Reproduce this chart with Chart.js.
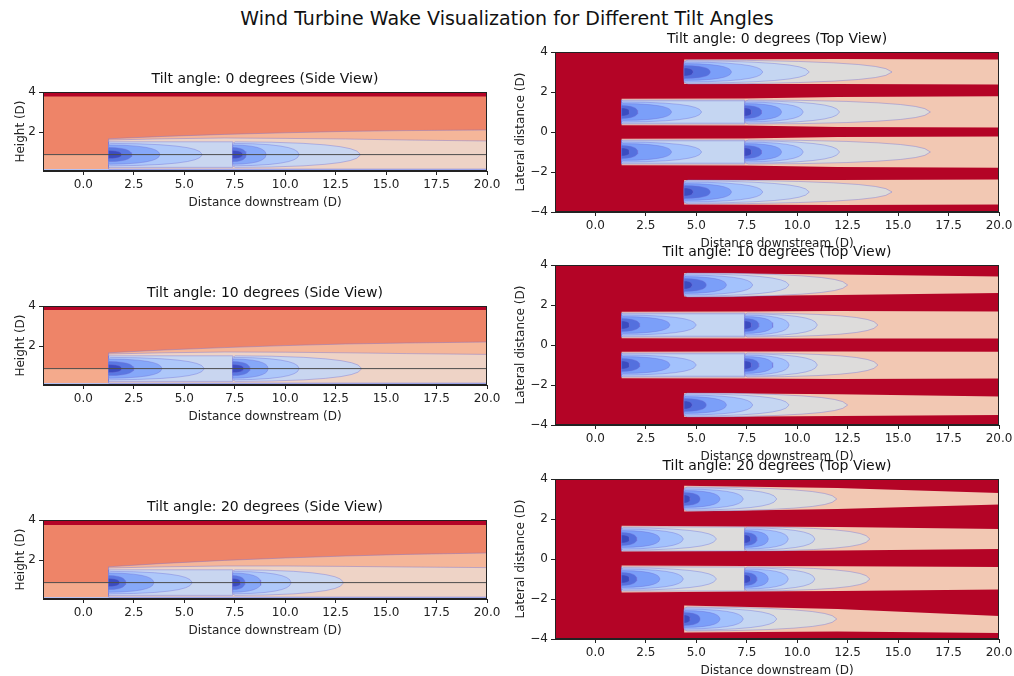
<!DOCTYPE html>
<html>
<head>
<meta charset="utf-8">
<script src="https://cdn.jsdelivr.net/npm/chart.js@4.4.0/dist/chart.umd.min.js"></script>
<style>
  body { margin: 0; background: #fff; width: 1014px; height: 676px; position: relative; overflow: hidden; font-family: "DejaVu Sans", sans-serif; }
  canvas { position: absolute; }
  #suptitle { position: absolute; left: 0; top: 7px; width: 1014px; text-align: center; font-size: 19px; color: #111; }
</style>
</head>
<body>
<div id="suptitle">Wind Turbine Wake Visualization for Different Tilt Angles</div>
<canvas id="side0" width="500" height="145" style="left:0;top:67px"></canvas>
<canvas id="side1" width="500" height="145" style="left:0;top:281px"></canvas>
<canvas id="side2" width="500" height="145" style="left:0;top:495px"></canvas>
<canvas id="top0" width="514" height="226" style="left:500px;top:27px"></canvas>
<canvas id="top1" width="514" height="226" style="left:500px;top:240px"></canvas>
<canvas id="top2" width="514" height="226" style="left:500px;top:454px"></canvas>
<script>
const tiltAngles = [0, 10, 20];
const xTicks = [0, 2.5, 5, 7.5, 10, 12.5, 15, 17.5, 20];
const sideYTicks = [2, 4];
const topYTicks = [-4, -2, 0, 2, 4];

// normalised outline of one wake contour (fraction of length, fraction of half width)
const wakeProfileS = [0, 0.02, 0.3, 0.55, 0.72, 0.84, 0.92, 0.97, 1];
const wakeProfileW = [0.88, 1, 0.97, 0.88, 0.76, 0.62, 0.46, 0.28, 0];

// side view: distance downstream vs height
const sideTurbineX = [1.25, 7.4];
const sideHubHeight = 0.87;
const sideLevelHalf = [0.2, 0.35, 0.48, 0.56, 0.64];
const sideTipsT1 = [
  [1.9, 2.4, 3.8, 5.9, null],
  [1.9, 2.5, 3.9, 6.0, null],
  [1.8, 2.1, 3.5, 5.4, null]
];
const sideTipsT2 = [
  [7.9, 8.07, 9.06, 10.7, 13.74],
  [7.95, 8.25, 9.16, 10.7, 13.8],
  [7.8, 8.0, 8.8, 10.3, 12.9]
];
const sideEnvX = [1.25, 4, 7, 10, 13, 16, 20];
const sideEnvTop = [
  [1.66, 1.78, 1.88, 1.96, 2.03, 2.07, 2.1],
  [1.66, 1.8, 1.92, 2.02, 2.1, 2.15, 2.2],
  [1.66, 1.83, 1.98, 2.1, 2.2, 2.28, 2.35]
];
const sidePinkTop = [
  [1.6, 1.66, 1.7, 1.68, 1.65, 1.6, 1.55],
  [1.6, 1.66, 1.7, 1.69, 1.66, 1.62, 1.58],
  [1.6, 1.66, 1.7, 1.7, 1.68, 1.65, 1.62]
];
const sideRedBottom = [3.78, 3.8, 3.75];
const sideGroundTop = 0.15;
const sideYMin = 0.05;

// top view: distance downstream vs lateral distance
const topRowY = [3, 1, -1, -3];
const topRowTurbines = [[4.4], [1.3, 7.4], [1.3, 7.4], [4.4]];
const topLevelHalf = [0.2, 0.32, 0.42, 0.5, 0.56, 0.6];
const topTipsOuter = [
  [4.85, 5.7, 6.75, 8.3, 10.6, 14.7],
  [4.8, 5.5, 6.5, 7.8, 9.6, 12.5],
  [4.7, 5.19, 6.18, 7.33, 8.99, 11.96]
];
const topTipsInnerT1 = [
  [1.7, 2.1, 3.78, 5.27, null, null],
  [1.7, 2.2, 3.7, 5.0, null, null],
  [1.7, 2.05, 3.2, 4.36, 6.0, null]
];
const topTipsInnerT2 = [
  [7.75, 8.24, 9.23, 10.3, 12.1, 16.6],
  [7.75, 8.1, 8.8, 9.6, 11.0, 14.0],
  [7.7, 8.0, 8.57, 9.56, 10.88, 13.6]
];
const bandOuterX = [4.4, 12, 20];
const bandInnerX = [1.3, 7.4, 12, 20];
const topBandHi = [
  [[3.63, 3.65, 3.62], [1.66, 1.68, 1.75, 1.79], [-0.34, -0.32, -0.25, -0.22], [-2.4, -2.4, -2.37]],
  [[3.6, 3.52, 3.42], [1.66, 1.68, 1.7, 1.68], [-0.34, -0.33, -0.32, -0.34], [-2.4, -2.46, -2.58]],
  [[3.66, 3.55, 3.3], [1.66, 1.62, 1.6, 1.5], [-0.33, -0.35, -0.36, -0.4], [-2.33, -2.5, -2.85]]
];
const topBandLo = [
  [[2.4, 2.4, 2.37], [0.34, 0.32, 0.25, 0.22], [-1.66, -1.68, -1.75, -1.79], [-3.63, -3.65, -3.62]],
  [[2.42, 2.5, 2.6], [0.34, 0.33, 0.32, 0.32], [-1.66, -1.68, -1.7, -1.68], [-3.6, -3.55, -3.5]],
  [[2.38, 2.5, 2.72], [0.38, 0.4, 0.42, 0.5], [-1.67, -1.62, -1.6, -1.53], [-3.67, -3.62, -3.7]]
];

// colours (coolwarm steps)
const sideLevelColors = ['#3b4cc0', '#5a78e2', '#86a8f9', '#aec8fa', '#c9d6f0'];
const topLevelColors = ['#3b4cc0', '#5470de', '#7b9ff9', '#a3c2fd', '#c5d6f2', '#dddcdb'];
const contourLine = 'rgba(110,110,215,0.5)';
const font = { family: 'DejaVu Sans', size: 12 };

function rect(x1, x2, y1, y2) {
  return [{x: x1, y: y1}, {x: x2, y: y1}, {x: x2, y: y2}, {x: x1, y: y2}];
}

function wakeOutline(x0, yc, half, tip, cutX) {
  if (tip === null) return rect(x0, cutX, yc - half, yc + half);
  const upper = wakeProfileS.map((s, i) => ({x: x0 + s * (tip - x0), y: yc + wakeProfileW[i] * half}));
  const lower = upper.slice().reverse().map(p => ({x: p.x, y: 2 * yc - p.y}));
  return upper.concat(lower);
}

function bandOutline(xs, hi, lo) {
  const up = xs.map((x, i) => ({x: x, y: hi[i]}));
  const down = xs.map((x, i) => ({x: x, y: lo[i]})).reverse();
  return up.concat(down);
}

function poly(points, color, line) {
  const pts = line ? points.concat([points[0]]) : points;
  return {
    data: pts, showLine: true, fill: 'shape', backgroundColor: color,
    borderColor: line || 'rgba(0,0,0,0)', borderWidth: line ? 0.8 : 1,
    pointRadius: 0, tension: 0
  };
}

function sideDatasets(p) {
  const ds = [];
  const hub = sideHubHeight;
  ds.push(poly(rect(-2, 20, sideYMin, 4), '#ee8468'));
  ds.push(poly(rect(-2, 20, sideRedBottom[p], 4), '#b40426'));
  ds.push(poly(rect(-2, 20, sideYMin, sideGroundTop), '#b5c1f3'));
  ds.push(poly(rect(-2, sideTurbineX[0], sideGroundTop, hub), '#f4aa8c'));
  const env = [{x: sideEnvX[0], y: sideGroundTop}]
    .concat(sideEnvX.map((x, i) => ({x: x, y: sideEnvTop[p][i]})))
    .concat([{x: 20, y: sideGroundTop}]);
  ds.push(poly(env, '#f5b699', contourLine));
  const pink = [{x: sideEnvX[0], y: sideGroundTop}]
    .concat(sideEnvX.map((x, i) => ({x: x, y: sidePinkTop[p][i]})))
    .concat([{x: 20, y: sideGroundTop}]);
  ds.push(poly(pink, '#eed3c6', contourLine));
  const tips = [sideTipsT1[p], sideTipsT2[p]];
  sideTurbineX.forEach((x0, t) => {
    for (let k = sideLevelHalf.length - 1; k >= 0; k--) {
      const cut = sideTurbineX[t + 1] || 20;
      ds.push(poly(wakeOutline(x0, hub, sideLevelHalf[k], tips[t][k], cut), sideLevelColors[k], contourLine));
    }
  });
  ds.push({
    data: [{x: -2, y: hub}, {x: 20, y: hub}], showLine: true, fill: false,
    borderColor: '#4d4d4d', borderWidth: 1, pointRadius: 0
  });
  return ds.reverse();
}

function topDatasets(p) {
  const ds = [];
  ds.push(poly(rect(-2, 20, -4, 4), '#b40426'));
  topRowY.forEach((yc, r) => {
    const xs = topRowTurbines[r].length === 1 ? bandOuterX : bandInnerX;
    ds.push(poly(bandOutline(xs, topBandHi[p][r], topBandLo[p][r]), '#f2c8b3'));
  });
  topRowY.forEach((yc, r) => {
    const turbines = topRowTurbines[r];
    turbines.forEach((x0, t) => {
      let tips;
      if (turbines.length === 1) tips = topTipsOuter[p];
      else tips = t === 0 ? topTipsInnerT1[p] : topTipsInnerT2[p];
      const cut = turbines[t + 1] || 20;
      for (let k = topLevelHalf.length - 1; k >= 0; k--) {
        ds.push(poly(wakeOutline(x0, yc, topLevelHalf[k], tips[k], cut), topLevelColors[k], contourLine));
      }
    });
  });
  return ds.reverse();
}

const frame = {
  id: 'frame',
  afterDatasetsDraw(chart) {
    const a = chart.chartArea, c = chart.ctx;
    c.save();
    c.strokeStyle = '#222';
    c.lineWidth = 1;
    c.strokeRect(a.left + 0.5, a.top + 0.5, a.width - 1, a.height - 1);
    c.restore();
  }
};

function minusLabel(v) {
  return v < 0 ? '\u2212' + Math.abs(v) : String(v);
}

function makePanel(id, title, datasets, yMin, yMax, yTicks, yTitle, yWidth, padRight) {
  new Chart(document.getElementById(id), {
    type: 'scatter',
    data: { datasets: datasets },
    options: {
      responsive: false,
      animation: false,
      events: [],
      layout: { padding: { top: 4, left: 12, right: padRight, bottom: 0 } },
      plugins: {
        legend: { display: false },
        tooltip: { enabled: false },
        title: {
          display: true, text: title, fullSize: false, color: '#111',
          font: { family: 'DejaVu Sans', size: 14, weight: 'normal', lineHeight: '17px' },
          padding: { top: 0, bottom: 4 }
        }
      },
      scales: {
        x: {
          type: 'linear', min: -2, max: 20,
          afterBuildTicks: s => { s.ticks = xTicks.map(v => ({value: v})); },
          afterFit: s => { s.height = 41; s.paddingLeft = 0; s.paddingRight = 0; },
          ticks: { callback: v => v.toFixed(1), font: font, color: '#222', padding: 3, maxRotation: 0, autoSkip: false },
          grid: { display: true, drawOnChartArea: false, tickLength: 4, color: '#222' },
          border: { color: '#222' },
          title: { display: true, text: 'Distance downstream (D)', font: font, color: '#222', padding: { top: 2, bottom: 2 } }
        },
        y: {
          type: 'linear', min: yMin, max: yMax,
          afterBuildTicks: s => { s.ticks = yTicks.map(v => ({value: v})); },
          afterFit: s => { s.width = yWidth; s.paddingTop = 0; s.paddingBottom = 0; },
          ticks: { callback: minusLabel, font: font, color: '#222', padding: 3, autoSkip: false },
          grid: { display: true, drawOnChartArea: false, tickLength: 4, color: '#222' },
          border: { color: '#222' },
          title: { display: true, text: yTitle, font: font, color: '#222', padding: { top: 2, bottom: 2 } }
        }
      }
    },
    plugins: [frame]
  });
}

tiltAngles.forEach((a, p) => {
  makePanel('side' + p, 'Tilt angle: ' + a + ' degrees (Side View)', sideDatasets(p),
    sideYMin, 4, sideYTicks, 'Height (D)', 31, 13);
  makePanel('top' + p, 'Tilt angle: ' + a + ' degrees (Top View)', topDatasets(p),
    -4, 4, topYTicks, 'Lateral distance (D)', 43, 15);
});
</script>
</body>
</html>
